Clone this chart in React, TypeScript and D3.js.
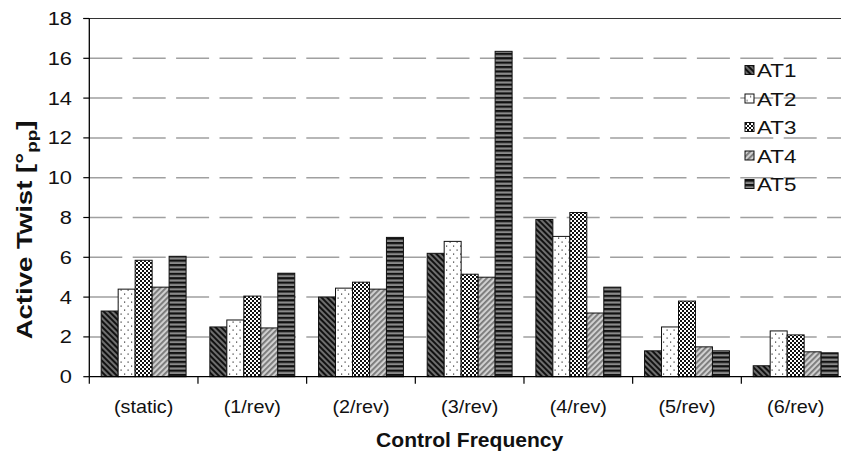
import * as d3 from 'd3';

const categories = ['(static)', '(1/rev)', '(2/rev)', '(3/rev)', '(4/rev)', '(5/rev)', '(6/rev)'];
const seriesNames = ['AT1', 'AT2', 'AT3', 'AT4', 'AT5'];
const at1 = [3.3, 2.5, 4.0, 6.2, 7.9, 1.3, 0.55];
const at2 = [4.4, 2.85, 4.45, 6.8, 7.05, 2.5, 2.3];
const at3 = [5.85, 4.05, 4.75, 5.15, 8.25, 3.8, 2.1];
const at4 = [4.5, 2.45, 4.4, 5.0, 3.2, 1.5, 1.25];
const at5 = [6.05, 5.2, 7.0, 16.35, 4.5, 1.3, 1.2];
const yTicks = [0, 2, 4, 6, 8, 10, 12, 14, 16, 18];

const seriesValues = [at1, at2, at3, at4, at5];

const W = 841;
const H = 455;
const left = 89.3;
const right = 850;
const top = 18.5;
const bottom = 376.7;
const font = 'Liberation Sans, Arial, sans-serif';

export default function App() {
  const x = d3.scaleBand<string>().domain(categories).range([left, right]).padding(0);
  const xs = d3.scaleBand<string>().domain(seriesNames).range([0, x.bandwidth()])
    .paddingInner(0).paddingOuter(0.7);
  const y = d3.scaleLinear().domain([0, 18]).range([bottom, top]);

  const bars = categories.flatMap((c, ci) =>
    seriesNames.map((s, si) => ({ c, s, v: seriesValues[si][ci] }))
  );

  return (
    <svg width={W} height={H} style={{ position: 'absolute', left: 0, top: 0, background: '#fff' }}>
      <defs>
        <pattern id="p-AT1" patternUnits="userSpaceOnUse" width="4" height="4" patternTransform="rotate(-45)">
          <rect width="4" height="4" fill="#6e6e6e" />
          <rect width="2" height="4" fill="#111" />
        </pattern>
        <pattern id="p-AT2" patternUnits="userSpaceOnUse" width="7" height="8">
          <rect width="7" height="8" fill="#fff" />
          <rect x="1.5" y="1.5" width="1.2" height="1.2" fill="#333" />
          <rect x="5" y="5.5" width="1.2" height="1.2" fill="#333" />
        </pattern>
        <pattern id="p-AT3" patternUnits="userSpaceOnUse" width="4" height="4">
          <rect width="4" height="4" fill="#fff" />
          <rect width="2" height="2" fill="#111" />
          <rect x="2" y="2" width="2" height="2" fill="#111" />
        </pattern>
        <pattern id="p-AT4" patternUnits="userSpaceOnUse" width="4" height="4" patternTransform="rotate(45)">
          <rect width="4" height="4" fill="#d0d0d0" />
          <rect width="1.8" height="4" fill="#777" />
        </pattern>
        <pattern id="p-AT5" patternUnits="userSpaceOnUse" width="4" height="4.4">
          <rect width="4" height="4.4" fill="#8a8a8a" />
          <rect width="4" height="2.2" fill="#111" />
        </pattern>
      </defs>

      {/* grid */}
      {yTicks.filter(t => t > 0 && t < 18).map(t => (
        <line key={t} x1={left} x2={W} y1={y(t)} y2={y(t)} stroke="#a0a0a0" strokeWidth={1.5}
          strokeDasharray="33 10.4" />
      ))}
      <line x1={left - 6} x2={W} y1={y(18)} y2={y(18)} stroke="#333" strokeWidth={1.2} />

      {/* bars */}
      {bars.map(b => (
        <rect key={b.c + b.s}
          x={(x(b.c) as number) + (xs(b.s) as number)}
          y={y(b.v)}
          width={xs.bandwidth()}
          height={bottom - y(b.v)}
          fill={`url(#p-${b.s})`}
          stroke="#111" strokeWidth={1} />
      ))}

      {/* y axis */}
      <line x1={left} x2={left} y1={top} y2={bottom} stroke="#000" strokeWidth={1.3} />
      {yTicks.map(t => (
        <g key={t}>
          <line x1={left - 6} x2={left} y1={y(t)} y2={y(t)} stroke="#000" strokeWidth={1.2} />
          <text transform={`translate(72,${y(t) + 6.5}) scale(1.18,1)`} textAnchor="end"
            fontFamily={font} fontSize={18.5} fill="#111">{t}</text>
        </g>
      ))}

      {/* x axis */}
      <line x1={left} x2={W} y1={bottom} y2={bottom} stroke="#000" strokeWidth={1.3} />
      {categories.map(c => (
        <g key={c}>
          <line x1={x(c) as number} x2={x(c) as number} y1={bottom} y2={bottom + 7} stroke="#000" strokeWidth={1.2} />
          <text transform={`translate(${(x(c) as number) + x.bandwidth() / 2},413) scale(1.1,1)`}
            textAnchor="middle" fontFamily={font} fontSize={18} fill="#111">{c}</text>
        </g>
      ))}

      <text transform={`translate(${(left + right) / 2},447) scale(1.08,1)`} textAnchor="middle"
        fontFamily={font} fontSize={19.5} fontWeight="bold" fill="#111">Control Frequency</text>

      <text transform="translate(32,230) rotate(-90) scale(1.45,1.15)" textAnchor="middle"
        fontFamily={font} fontSize={19} fontWeight="bold" fill="#111">
        Active Twist [°<tspan fontSize={13} dy={4}>pp</tspan><tspan dy={-4}>]</tspan>
      </text>

      {/* legend */}
      {seriesNames.map((s, i) => (
        <g key={s} transform={`translate(745,${70 + i * 28.5})`}>
          <rect x={0} y={-4.5} width={9} height={9} fill={`url(#p-${s})`} stroke="#111" strokeWidth={1} />
          <text transform="translate(12,7) scale(1.18,1)" fontFamily={font} fontSize={19} fill="#111">{s}</text>
        </g>
      ))}
    </svg>
  );
}
